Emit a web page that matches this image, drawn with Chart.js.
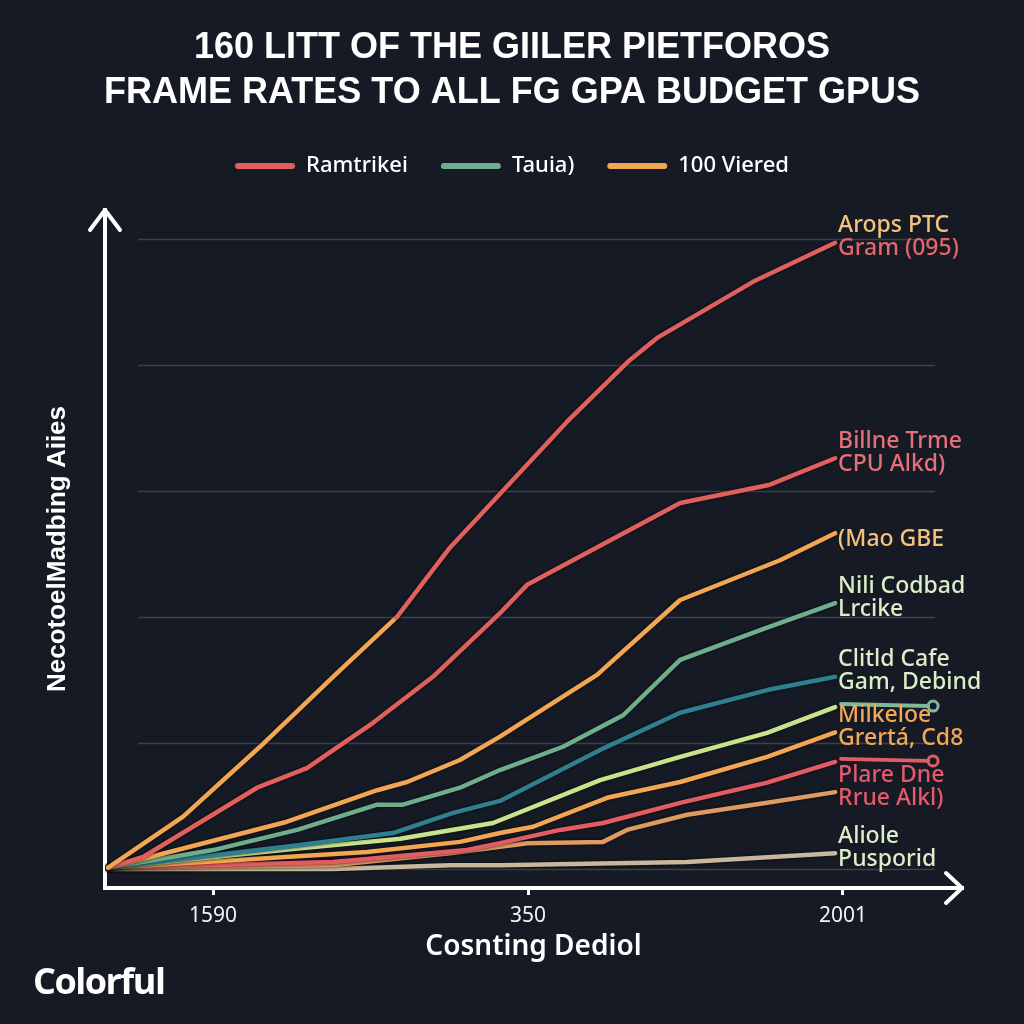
<!DOCTYPE html>
<html>
<head>
<meta charset="utf-8">
<script src="https://cdn.jsdelivr.net/npm/chart.js@4.4.1/dist/chart.umd.min.js"></script>
<style>
  html, body { margin: 0; padding: 0; background: #151a25; }
  #wrap { position: relative; width: 1024px; height: 1024px; }
  #logo { position: absolute; left: 33px; top: 956px; color: #fff; font: bold 36px "Open Sans", sans-serif; letter-spacing: -1.5px; }
</style>
</head>
<body>
<div id="wrap">
  <canvas id="chart" width="1024" height="1024"></canvas>
  <div id="logo">Colorful</div>
</div>
<script>
// text
const titleLines = ['160 LITT OF THE GIILER PIETFOROS', 'FRAME RATES TO ALL FG GPA BUDGET GPUS'];
const legendNames = ['Ramtrikei', 'Tauia)', '100 Viered'];
const xTitle = 'Cosnting Dediol';
const yTitle = 'NecotoelMadbing Aiies';
const xTickValues = [100, 200, 300];
const xTickLabels = ['1590', '350', '2001'];
const yGridValues = [0, 20, 40, 60, 80, 100];

// series, [x, y]
const gramPtc = [[66.7, 0.2], [90.5, 8.3], [114.9, 19.4], [138.1, 30.5], [158.4, 40.0], [175.2, 51.0], [212.4, 71.0], [231.7, 80.5], [241.0, 84.3], [271.4, 93.2], [297.5, 99.4]];
const cpuAlkd = [[66.7, 0.2], [77.8, 1.9], [114.0, 12.9], [129.8, 16.0], [150.8, 23.2], [169.8, 30.5], [191.1, 40.6], [199.7, 45.1], [248.3, 58.1], [276.8, 61.0], [297.5, 65.2]];
const maoGbe = [[66.7, 0.2], [80.0, 1.9], [123.5, 7.5], [152.1, 12.5], [161.6, 13.8], [178.4, 17.3], [191.1, 21.0], [221.9, 30.8], [248.3, 42.7], [280.0, 49.0], [297.5, 53.3]];
const niliCodbad = [[66.7, 0.2], [100.0, 3.0], [126.7, 6.2], [152.1, 10.2], [160.3, 10.2], [178.4, 12.9], [191.1, 15.7], [211.1, 19.4], [230.2, 24.4], [248.3, 33.2], [273.7, 37.9], [297.5, 42.2]];
const clitldCafe = [[66.7, 0.2], [127.6, 3.8], [157.1, 5.7], [176.2, 8.9], [191.1, 10.8], [222.9, 18.9], [248.3, 24.8], [275.9, 28.4], [297.5, 30.5]];
const limeLine = [[66.7, 0.2], [127.6, 3.3], [159.4, 4.8], [188.9, 7.3], [222.9, 14.1], [248.3, 17.8], [275.9, 21.6], [297.5, 25.7]];
const milkeloe = [[66.7, 0.2], [106.3, 1.4], [148.9, 2.7], [178.4, 4.3], [191.1, 5.7], [201.6, 6.7], [225.1, 11.3], [248.3, 13.8], [275.9, 17.8], [297.5, 21.7]];
const redLow = [[66.7, 0.2], [138.1, 1.1], [180.6, 3.0], [191.1, 4.1], [210.2, 6.2], [223.8, 7.3], [248.3, 10.5], [275.9, 13.7], [297.5, 17.0]];
const plareDne = [[66.7, 0.2], [138.1, 0.6], [175.2, 2.5], [199.7, 4.1], [223.8, 4.3], [231.4, 6.2], [250.5, 8.6], [275.9, 10.5], [297.5, 12.2]];
const pusporid = [[66.7, 0.0], [138.1, 0.0], [175.2, 0.6], [191.1, 0.6], [250.5, 1.1], [297.5, 2.5]];

const endLabelText = [
    ['Arops PTC', 'Gram (095)'],
    ['Billne Trme', 'CPU Alkd)'],
    ['(Mao GBE'],
    ['Nili Codbad', 'Lrcike'],
    ['Clitld Cafe', 'Gam, Debind'],
    [],
    ['Milkeloe', 'Grertá, Cd8'],
    [],
    ['Plare Dne', 'Rrue Alkl)'],
    ['Aliole', 'Pusporid']
];

// styles
const RED = '#e0605e';
const ORANGE = '#f2a654';
const SAGE = '#6fae8c';
const TEAL = '#2f7f8f';
const LIME = '#c9e38d';
const RED2 = '#e25c63';
const TAN = '#dd9a62';
const BEIGE = '#c9b79b';
const PALE = '#dcedc8';
const endLabelColors = [
    ['#f5c47c', '#e4666a'],
    ['#e6707a', '#e6707a'],
    ['#f4c27c'],
    [PALE, PALE],
    [PALE, PALE],
    [],
    ['#f2a858', '#f2a858'],
    [],
    ['#e45a6a', '#e45a6a'],
    [PALE, PALE]
];
const leaders = { 5: '#7fb89a', 7: RED2 };
const leaderEnd = 328.6;
const gridFrom = 76.2;
const gridTo = 329.2;

function line(label, data, colour, extra = {}) {
    return Object.assign({
        label: label,
        data: data,
        borderColor: colour,
        backgroundColor: colour,
        borderWidth: 4.5,
        pointRadius: 0,
        tension: 0,
        borderJoinStyle: 'round',
        borderCapStyle: 'round',
        fill: false
    }, extra);
}

const datasets = [
    line('Gram (095)', gramPtc, RED, {
        segment: { borderColor: c => c.p0.parsed.x < 158 ? ORANGE : RED }
    }),
    line('CPU Alkd)', cpuAlkd, RED),
    line('(Mao GBE', maoGbe, ORANGE),
    line('Lrcike', niliCodbad, SAGE),
    line('Gam, Debind', clitldCafe, TEAL),
    line('Lime', limeLine, LIME),
    line('Grertá, Cd8', milkeloe, ORANGE),
    line('Red', redLow, RED2),
    line('Rrue Alkl)', plareDne, TAN),
    line('Pusporid', pusporid, BEIGE)
];

const decor = {
    id: 'decor',
    beforeDraw(chart) {
        const ctx = chart.ctx;
        ctx.save();
        ctx.fillStyle = '#151a25';
        ctx.fillRect(0, 0, chart.width, chart.height);
        ctx.restore();
    },
    beforeDatasetsDraw(chart) {
        const ctx = chart.ctx;
        const xs = chart.scales.x, ys = chart.scales.y;
        ctx.save();
        ctx.strokeStyle = 'rgba(200,210,225,0.22)';
        ctx.lineWidth = 1.5;
        yGridValues.forEach(v => {
            const y = Math.round(ys.getPixelForValue(v)) + 0.5;
            ctx.beginPath();
            ctx.moveTo(xs.getPixelForValue(gridFrom), y);
            ctx.lineTo(xs.getPixelForValue(gridTo), y);
            ctx.stroke();
        });
        ctx.restore();
    },
    beforeDatasetDraw(chart) {
        const ctx = chart.ctx;
        ctx.save();
        ctx.shadowColor = 'rgba(0,0,0,0.85)';
        ctx.shadowBlur = 3;
    },
    afterDatasetDraw(chart) {
        chart.ctx.restore();
    },
    afterDatasetsDraw(chart) {
        const ctx = chart.ctx;
        const xs = chart.scales.x;
        ctx.save();
        // leader lines with end rings
        Object.keys(leaders).forEach(i => {
            const pts = chart.getDatasetMeta(i).data;
            const last = pts[pts.length - 1];
            const xEnd = xs.getPixelForValue(leaderEnd);
            ctx.strokeStyle = leaders[i];
            ctx.lineWidth = 4;
            ctx.lineCap = 'round';
            ctx.beginPath();
            ctx.moveTo(last.x + 6, last.y - 3);
            ctx.lineTo(xEnd - 5, last.y - 1);
            ctx.stroke();
            ctx.lineWidth = 3;
            ctx.beginPath();
            ctx.arc(xEnd, last.y - 1, 5, 0, Math.PI * 2);
            ctx.stroke();
        });
        // end labels
        ctx.font = '500 23px "Noto Sans", sans-serif';
        ctx.textAlign = 'left';
        ctx.textBaseline = 'middle';
        endLabelText.forEach((lines, i) => {
            if (!lines.length) return;
            const pts = chart.getDatasetMeta(i).data;
            const last = pts[pts.length - 1];
            const n = lines.length;
            lines.forEach((t, k) => {
                ctx.fillStyle = endLabelColors[i][k];
                ctx.fillText(t, last.x + 3, last.y + 6 - (n - 1 - k) * 23);
            });
        });
        ctx.restore();
    },
    afterDraw(chart) {
        const ctx = chart.ctx;
        const a = chart.chartArea;
        ctx.save();
        ctx.strokeStyle = '#ffffff';
        ctx.lineWidth = 4;
        ctx.lineCap = 'round';
        ctx.lineJoin = 'round';
        ctx.beginPath();
        ctx.moveTo(a.left - 15, a.top + 20);
        ctx.lineTo(a.left, a.top);
        ctx.lineTo(a.left + 15, a.top + 20);
        ctx.stroke();
        ctx.beginPath();
        ctx.moveTo(a.right - 16, a.bottom - 15);
        ctx.lineTo(a.right, a.bottom);
        ctx.lineTo(a.right - 16, a.bottom + 15);
        ctx.stroke();
        ctx.restore();
    }
};

const ctx = document.getElementById('chart').getContext('2d');
new Chart(ctx, {
    type: 'line',
    data: { datasets: datasets },
    plugins: [decor],
    options: {
        responsive: false,
        animation: false,
        layout: { padding: { left: 31, right: 31, top: 0, bottom: 0 } },
        plugins: {
            title: {
                display: true,
                text: titleLines,
                color: '#ffffff',
                font: { family: '"Liberation Sans", Arial, sans-serif', size: 36, weight: 'bold', lineHeight: 1.25 },
                padding: { top: 26, bottom: 6 }
            },
            legend: {
                display: true,
                position: 'top',
                labels: {
                    color: '#ffffff',
                    font: { family: '"Noto Sans", sans-serif', size: 22, weight: '500' },
                    boxWidth: 60,
                    boxHeight: 6,
                    padding: 33,
                    useBorderRadius: true,
                    borderRadius: 3,
                    generateLabels: () => legendNames.map((name, i) => ({
                        text: name,
                        fillStyle: [RED, SAGE, ORANGE][i],
                        strokeStyle: [RED, SAGE, ORANGE][i],
                        lineWidth: 0,
                        fontColor: '#ffffff',
                        borderRadius: 3,
                        datasetIndex: i
                    }))
                }
            },
            tooltip: { enabled: false }
        },
        scales: {
            x: {
                type: 'linear',
                position: 'bottom',
                min: 65.71,
                max: 337.78,
                afterBuildTicks: s => { s.ticks = xTickValues.map(v => ({ value: v })); },
                afterFit: s => { s.height = 136; },
                ticks: {
                    color: '#f2f2f2',
                    font: { family: '"Noto Sans", sans-serif', size: 21 },
                    padding: 8,
                    maxRotation: 0,
                    autoSkip: false,
                    callback: (v) => xTickLabels[xTickValues.indexOf(v)]
                },
                grid: { drawOnChartArea: false, drawTicks: true, tickLength: 7, color: '#ffffff', lineWidth: 3 },
                border: { display: true, color: '#ffffff', width: 4 },
                title: {
                    display: true,
                    text: xTitle,
                    color: '#ffffff',
                    font: { family: '"Noto Sans", sans-serif', size: 28, weight: '600' },
                    padding: { top: 0, bottom: 60 }
                }
            },
            xTop: {
                type: 'linear',
                position: 'top',
                display: true,
                afterFit: s => { s.height = 23; },
                ticks: { display: false },
                grid: { display: false },
                border: { display: false }
            },
            y: {
                type: 'linear',
                position: 'left',
                min: -3.02,
                max: 104.6,
                afterBuildTicks: s => { s.ticks = yGridValues.map(v => ({ value: v })); },
                afterFit: s => { s.width = 74; },
                ticks: { display: false },
                grid: { display: false },
                border: { display: true, color: '#ffffff', width: 4 },
                title: {
                    display: true,
                    text: yTitle,
                    color: '#ffffff',
                    font: { family: '"Liberation Sans", Arial, sans-serif', size: 26, weight: 'bold' },
                    padding: { top: 11, bottom: 0 }
                }
            },
            yRight: {
                type: 'linear',
                position: 'right',
                display: true,
                afterFit: s => { s.width = 31; },
                ticks: { display: false },
                grid: { display: false },
                border: { display: false }
            }
        }
    }
});
</script>
</body>
</html>
